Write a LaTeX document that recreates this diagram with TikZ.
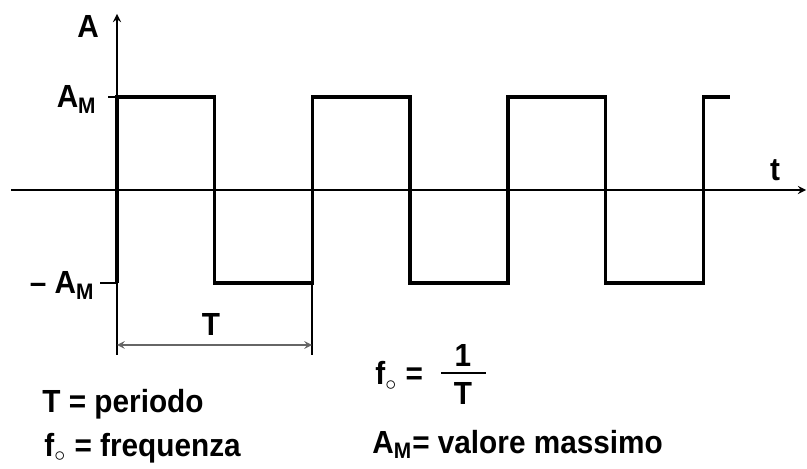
\documentclass[tikz,border=0pt]{standalone}
\usepackage{fontspec}
\setmainfont{Liberation Sans}[FakeStretch=0.93]
\usetikzlibrary{positioning}

\begin{document}
\begin{tikzpicture}[x=0.5pt,y=-0.5pt,>=stealth,
    every node/.style={font=\bfseries\fontsize{16}{19}\selectfont,inner sep=0pt},
    axis/.style={line width=0.8pt},
    wave/.style={line width=1.7pt},
    dimline/.style={line width=0.7pt,black!60,<->}]
    \useasboundingbox (0,0) rectangle (807,469);

	% axes
    \coordinate (xs) at (11,190);
    \coordinate (xe) at (806,190);
    \coordinate (ys) at (117,355);
    \coordinate (ye) at (117,14);
	\draw[axis,->] (xs) to (xe);
	\draw[axis,->] (ys) to (ye);
	\node (A) at (88,26) {A};
	\node (t) at (775,170) {t};

	% levels
	\draw[axis] (108,97) -- (117,97);
	\draw[axis] (100,283) -- (117,283);
	\node (AM) [anchor=base east] at (97,108) {A\textsubscript{M}};
	\node (mAM) [anchor=base east] at (95,294) {\textendash\ A\textsubscript{M}};

	% square wave
	\draw[wave] (117,283)
	\foreach \k in {0,1,2} {
	  -- ++(0,-186) -- ++(97.7,0) -- ++(0,186) -- ++(97.7,0)
	} -- ++(0,-186) -- ++(27,0);

	% period
    \coordinate (pa) at (117,345);
    \coordinate (pb) at (312,345);
	\draw[axis] (312,283) -- (312,355);
	\draw[dimline] (pa) to (pb);
	\node (T) at (211,324) {T};

	% legend
	\node (per) [anchor=base west] at (42,413) {T = periodo};
	\node (freq) [anchor=base west] at (44,456) {f$_\circ$ = frequenza};
	\node (fo) [anchor=base west] at (375,385) {f$_\circ$ =};
	\node (num) [anchor=base] at (463,367) {1};
	\node (den) [anchor=base] at (463,405) {T};
	\draw[axis] (441,373) -- (486,373);
	\node (max) [anchor=base west] at (372,453) {A\textsubscript{M}= valore massimo};
\end{tikzpicture}
\end{document}
